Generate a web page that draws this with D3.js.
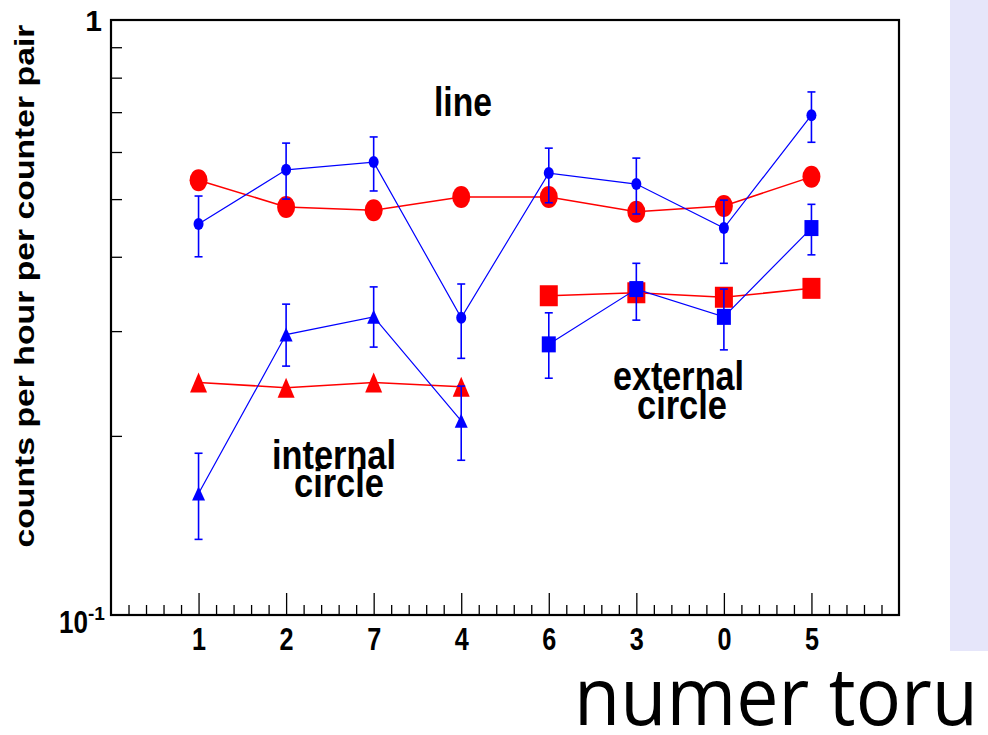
<!DOCTYPE html>
<html>
<head>
<meta charset="utf-8">
<script src="https://cdn.jsdelivr.net/npm/d3@7"></script>
<style>
  html, body { margin: 0; padding: 0; background: #fff; }
  svg { display: block; }
</style>
</head>
<body>
<script>
// counters in the order they appear along the x axis
const categories = ["1", "2", "7", "4", "6", "3", "0", "5"];

// "line" series (all counters)
const lineRed = [0.538, 0.485, 0.479, 0.504, 0.504, 0.476, 0.487, 0.545];
const lineBlue = [0.454, 0.560, 0.577, 0.316, 0.553, 0.530, 0.447, 0.692];
const lineBlueLow = [0.400, 0.500, 0.516, 0.270, 0.493, 0.472, 0.390, 0.623];
const lineBlueHigh = [0.506, 0.621, 0.636, 0.360, 0.609, 0.586, 0.498, 0.757];

// internal circle
const internalCats = ["1", "2", "7", "4"];
const internalRed = [0.246, 0.241, 0.246, 0.242];
const internalBlue = [0.160, 0.296, 0.317, 0.212];
const internalBlueLow = [0.134, 0.262, 0.282, 0.182];
const internalBlueHigh = [0.187, 0.333, 0.356, 0.2425];

// external circle
const externalCats = ["6", "3", "0", "5"];
const externalRed = [0.344, 0.348, 0.342, 0.354];
const externalBlue = [0.285, 0.353, 0.317, 0.447];
const externalBlueLow = [0.250, 0.313, 0.279, 0.403];
const externalBlueHigh = [0.322, 0.390, 0.353, 0.490];

const yMinorTicks = [0.2, 0.3, 0.4, 0.5, 0.6, 0.7, 0.8, 0.9];

(function() {
const width = 988, height = 735;
const plotLeft = 111, plotRight = 899, plotTop = 20, plotBottom = 615;
const RED = "#ff0000", BLUE = "#0000ff";
const font = "'Liberation Sans', Arial, Helvetica, sans-serif";

const svg = d3.select("body").append("svg")
    .attr("width", width)
    .attr("height", height);

// lavender strip on the right
svg.append("rect")
    .attr("x", 950).attr("y", 0)
    .attr("width", 38).attr("height", 651)
    .attr("fill", "#e6e6fa");

const x = d3.scaleLinear().domain([-1, 8]).range([plotLeft, plotRight]);
const y = d3.scaleLog().domain([0.1, 1]).range([plotBottom, plotTop]);
const xPos = c => x(categories.indexOf(c));

// y minor ticks (inward)
svg.append("g")
    .attr("transform", `translate(${plotLeft},0)`)
    .call(d3.axisLeft(y).tickValues(yMinorTicks).tickSize(-11).tickFormat(""))
    .call(g => g.select(".domain").remove())
    .call(g => g.selectAll("text").remove())
    .call(g => g.selectAll("line").attr("stroke", "#000").attr("stroke-width", 1.3));

// x minor ticks
const minor = d3.range(-1, 8.001, 0.2).filter(v => Math.abs(v - Math.round(v)) > 0.01);
svg.append("g")
    .attr("transform", `translate(0,${plotBottom})`)
    .call(d3.axisBottom(x).tickValues(minor).tickSize(-10).tickFormat(""))
    .call(g => g.select(".domain").remove())
    .call(g => g.selectAll("text").remove())
    .call(g => g.selectAll("line").attr("stroke", "#000").attr("stroke-width", 1.3));

// x major ticks + labels
svg.append("g")
    .attr("transform", `translate(0,${plotBottom})`)
    .call(d3.axisBottom(x).tickValues(d3.range(categories.length)).tickSize(-22)
        .tickFormat(i => categories[i]))
    .call(g => g.select(".domain").remove())
    .call(g => g.selectAll("line").attr("stroke", "#000").attr("stroke-width", 1.3))
    .call(g => g.selectAll("text")
        .attr("y", 35).attr("dy", 0)
        .attr("fill", "#000")
        .attr("font-family", font)
        .attr("font-weight", "bold")
        .attr("font-size", 32)
        .attr("textLength", 14)
        .attr("lengthAdjust", "spacingAndGlyphs"));

// frame
svg.append("rect")
    .attr("x", plotLeft).attr("y", plotTop)
    .attr("width", plotRight - plotLeft).attr("height", plotBottom - plotTop)
    .attr("fill", "none")
    .attr("stroke", "#000")
    .attr("stroke-width", 2.2);

// y labels
svg.append("text")
    .attr("x", 102).attr("y", 31)
    .attr("text-anchor", "end")
    .attr("font-family", font).attr("font-weight", "bold").attr("font-size", 30)
    .text("1");
svg.append("text")
    .attr("x", 59).attr("y", 633)
    .attr("font-family", font).attr("font-weight", "bold").attr("font-size", 32)
    .attr("textLength", 29).attr("lengthAdjust", "spacingAndGlyphs")
    .text("10");
svg.append("text")
    .attr("x", 88).attr("y", 620)
    .attr("font-family", font).attr("font-weight", "bold").attr("font-size", 19)
    .attr("textLength", 17).attr("lengthAdjust", "spacingAndGlyphs")
    .text("-1");

svg.append("text")
    .attr("transform", "translate(34,286) rotate(-90)")
    .attr("text-anchor", "middle")
    .attr("font-family", font).attr("font-weight", "bold").attr("font-size", 28)
    .attr("textLength", 523).attr("lengthAdjust", "spacingAndGlyphs")
    .text("counts per hour per counter pair");

// helpers
function series(cats, vals) {
    return cats.map((c, i) => ({ c, v: vals[i] }));
}
const lineGen = d3.line().x(d => xPos(d.c)).y(d => y(d.v));

function drawLine(data, color, w) {
    svg.append("path")
        .datum(data)
        .attr("d", lineGen)
        .attr("fill", "none")
        .attr("stroke", color)
        .attr("stroke-width", w);
}

function drawErrors(cats, lo, hi, color) {
    const data = cats.map((c, i) => ({ c, lo: lo[i], hi: hi[i] }));
    const g = svg.append("g").attr("stroke", color).attr("stroke-width", 1.6);
    g.selectAll("line.bar").data(data).join("line")
        .attr("class", "bar")
        .attr("x1", d => xPos(d.c)).attr("x2", d => xPos(d.c))
        .attr("y1", d => y(d.lo)).attr("y2", d => y(d.hi));
    g.selectAll("line.capLo").data(data).join("line")
        .attr("class", "capLo")
        .attr("x1", d => xPos(d.c) - 4).attr("x2", d => xPos(d.c) + 4)
        .attr("y1", d => y(d.lo)).attr("y2", d => y(d.lo));
    g.selectAll("line.capHi").data(data).join("line")
        .attr("class", "capHi")
        .attr("x1", d => xPos(d.c) - 4).attr("x2", d => xPos(d.c) + 4)
        .attr("y1", d => y(d.hi)).attr("y2", d => y(d.hi));
}

function drawEllipses(data, color, rx, ry) {
    svg.append("g").selectAll("ellipse").data(data).join("ellipse")
        .attr("cx", d => xPos(d.c)).attr("cy", d => y(d.v))
        .attr("rx", rx).attr("ry", ry)
        .attr("fill", color);
}

function drawSquares(data, color, w, h) {
    svg.append("g").selectAll("rect").data(data).join("rect")
        .attr("x", d => xPos(d.c) - w / 2).attr("y", d => y(d.v) - h / 2)
        .attr("width", w).attr("height", h)
        .attr("fill", color);
}

function drawTriangles(data, color, w, h) {
    svg.append("g").selectAll("path").data(data).join("path")
        .attr("d", d => {
            const cx = xPos(d.c), cy = y(d.v);
            return `M${cx},${cy - h / 2}L${cx + w / 2},${cy + h / 2}L${cx - w / 2},${cy + h / 2}Z`;
        })
        .attr("fill", color);
}

// red graphs
const lr = series(categories, lineRed);
const ir = series(internalCats, internalRed);
const er = series(externalCats, externalRed);
drawLine(lr, RED, 1.5);
drawLine(ir, RED, 1.5);
drawLine(er, RED, 1.5);
drawEllipses(lr, RED, 9, 11);
drawTriangles(ir, RED, 17, 20);
drawSquares(er, RED, 18, 21);

// blue graphs
const lb = series(categories, lineBlue);
const ib = series(internalCats, internalBlue);
const eb = series(externalCats, externalBlue);
drawLine(lb, BLUE, 1.2);
drawLine(ib, BLUE, 1.2);
drawLine(eb, BLUE, 1.2);
drawErrors(categories, lineBlueLow, lineBlueHigh, BLUE);
drawErrors(internalCats, internalBlueLow, internalBlueHigh, BLUE);
drawErrors(externalCats, externalBlueLow, externalBlueHigh, BLUE);
drawEllipses(lb, BLUE, 5, 6);
drawTriangles(ib, BLUE, 13, 14);
drawSquares(eb, BLUE, 14, 16);

// annotations
const notes = [
    { t: "line", x: 434, y: 116, len: 58 },
    { t: "internal", x: 272, y: 469, len: 124 },
    { t: "circle", x: 294, y: 497, len: 90 },
    { t: "external", x: 613, y: 390, len: 131 },
    { t: "circle", x: 637, y: 419, len: 90 }
];
svg.append("g").selectAll("text").data(notes).join("text")
    .attr("x", d => d.x).attr("y", d => d.y)
    .attr("font-family", font).attr("font-weight", "bold").attr("font-size", 41)
    .attr("textLength", d => d.len).attr("lengthAdjust", "spacingAndGlyphs")
    .text(d => d.t);

// caption under the chart
svg.append("text")
    .attr("x", 574).attr("y", 725)
    .attr("font-family", "'Open Sans', 'Noto Sans', sans-serif")
    .attr("font-size", 80)
    .attr("textLength", 404).attr("lengthAdjust", "spacingAndGlyphs")
    .text("numer toru");
})();
</script>
</body>
</html>
